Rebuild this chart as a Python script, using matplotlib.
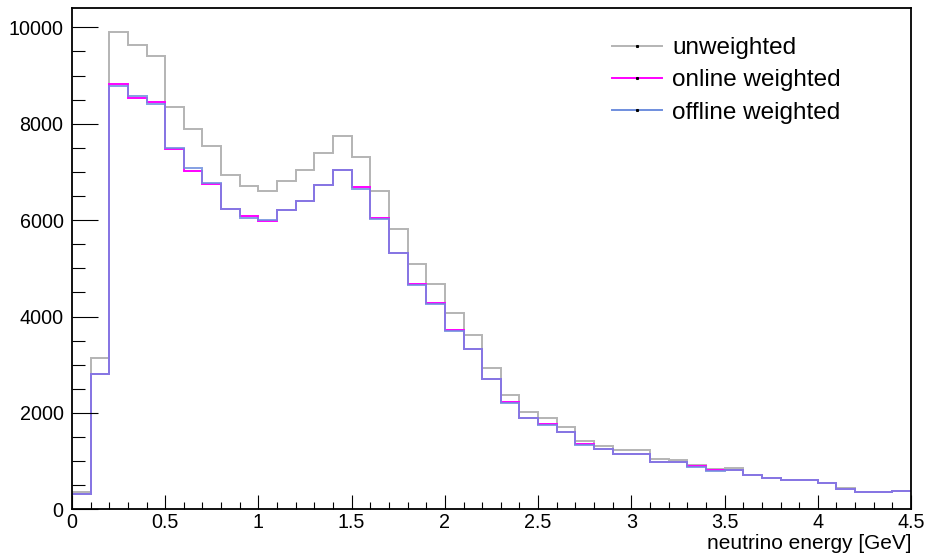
import numpy as np
import matplotlib
matplotlib.use("Agg")
import matplotlib.pyplot as plt
from matplotlib.ticker import MultipleLocator, FuncFormatter
from matplotlib.lines import Line2D

# 45 bins of 0.1 GeV from 0 to 4.5
bin_edges = np.round(np.arange(46) * 0.1, 1)

unweighted = [365, 3145, 9902, 9633, 9405, 8347, 7890, 7531, 6936, 6708,
              6610, 6805, 7033, 7386, 7745, 7309, 6597, 5815, 5083, 4674,
              4066, 3622, 2932, 2365, 2025, 1900, 1701, 1417, 1320, 1224,
              1224, 1044, 1017, 913, 836, 857, 718, 656, 608, 602,
              552, 436, 365, 353, 386]

online_weighted = [317, 2800, 8817, 8540, 8457, 7481, 7025, 6749, 6237, 6091,
                   5975, 6203, 6402, 6734, 7039, 6680, 6037, 5324, 4668, 4286,
                   3714, 3332, 2697, 2220, 1888, 1770, 1604, 1355, 1257, 1147,
                   1154, 988, 981, 892, 809, 822, 718, 656, 608, 602,
                   546, 431, 365, 353, 386]

offline_weighted = [317, 2800, 8789, 8575, 8402, 7496, 7087, 6770, 6237, 6037,
                    6008, 6203, 6402, 6734, 7039, 6652, 6023, 5317, 4647, 4266,
                    3707, 3325, 2697, 2199, 1888, 1757, 1597, 1341, 1250, 1154,
                    1147, 981, 975, 885, 795, 816, 714, 650, 604, 598,
                    546, 431, 365, 350, 383]

labels = ["unweighted", "online weighted", "offline weighted"]
colors = ["#b4b4b4", "#ff00ff", "#6f8ede"]

plt.rcParams['font.family'] = ['Liberation Sans', 'DejaVu Sans']

fig = plt.figure(figsize=(9.27, 5.57), dpi=100)
ax = fig.add_axes([0.0776, 0.0856, 0.9052, 0.9000])

ax.stairs(unweighted, bin_edges, baseline=None, color=colors[0], lw=1.4)
ax.stairs(online_weighted, bin_edges, baseline=None, color=colors[1], lw=1.4)
ax.stairs(offline_weighted, bin_edges, baseline=None, color=colors[2], lw=1.4, alpha=0.85)

ax.set_xlim(0, 4.5)
ax.set_ylim(0, 10400)

ax.xaxis.set_major_locator(MultipleLocator(0.5))
ax.xaxis.set_minor_locator(MultipleLocator(0.1))
ax.yaxis.set_major_locator(MultipleLocator(2000))
ax.yaxis.set_minor_locator(MultipleLocator(500))
ax.xaxis.set_major_formatter(FuncFormatter(lambda v, p: "%g" % v))

ax.tick_params(axis='both', which='both', direction='in', top=False, right=False,
               width=0.8, labelsize=14.2)
ax.tick_params(axis='x', which='major', length=10.3, pad=3)
ax.tick_params(axis='x', which='minor', length=5)
ax.tick_params(axis='y', which='major', length=18.5, pad=6)
ax.tick_params(axis='y', which='minor', length=9.1)

for sp in ax.spines.values():
    sp.set_linewidth(1.3)

ax.set_xlabel("neutrino energy [GeV]", fontsize=15, loc='right', labelpad=1)

handles = [Line2D([0], [0], color=c, lw=1.4, marker='s', markersize=1.2,
                  markerfacecolor='k', markeredgecolor='k') for c in colors]
ax.legend(handles, labels, loc='upper left', bbox_to_anchor=(0.6437, 0.942),
          frameon=False, fontsize=17.5, borderpad=0, borderaxespad=0,
          handlelength=2.06, handletextpad=0.42, labelspacing=0.42, numpoints=1)

fig.savefig("out.png", dpi=100)
